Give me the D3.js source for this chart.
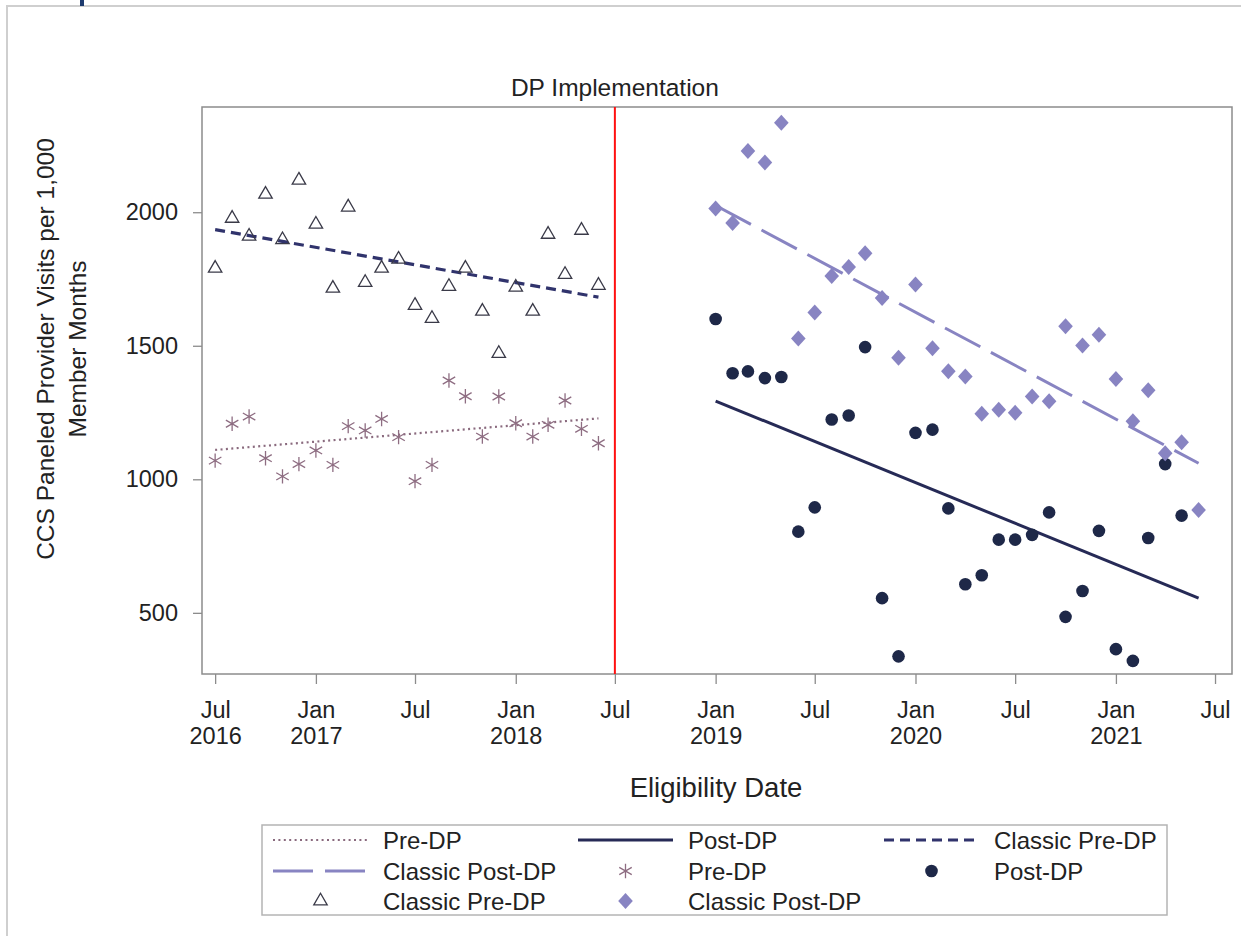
<!DOCTYPE html>
<html>
<head>
<meta charset="utf-8">
<script src="https://cdn.jsdelivr.net/npm/d3@7/dist/d3.min.js"></script>
<style>
  html, body { margin: 0; padding: 0; background: #ffffff; }
  svg { display: block; font-family: "Liberation Sans", Arial, sans-serif; }
</style>
</head>
<body>
<svg id="chart" width="1241" height="936"></svg>
<script>
// ---- Monthly series (visits per 1,000 member months) ----
// Pre-DP period: Jul 2016 .. Jun 2018
const preStart = new Date(2016, 6, 1);
const preDP      = [1070, 1208, 1235, 1079, 1011, 1057, 1108, 1054, 1199, 1183, 1226, 1158,
                    993, 1054, 1370, 1311, 1160, 1310, 1210, 1160, 1204, 1295, 1189, 1135];
const classicPre = [1790, 1977, 1910, 2067, 1897, 2120, 1955, 1715, 2019, 1737, 1790, 1824,
                    1651, 1602, 1722, 1790, 1629, 1471, 1719, 1629, 1917, 1767, 1932, 1726];
// Post-DP period: Jan 2019 .. Jun 2021
const postStart = new Date(2019, 0, 1);
const postDP      = [1600, 1397, 1404, 1379, 1383, 804, 895, 1224, 1239, 1495, 555, 337,
                     1174, 1186, 891, 607, 641, 774, 774, 792, 876, 485, 582, 807,
                     364, 320, 780, 1057, 864];
const classicPost = [2014, 1960, 2229, 2186, 2335, 1527, 1625, 1761, 1795, 1846, 1679, 1455,
                     1729, 1491, 1405, 1385, 1245, 1260, 1249, 1310, 1292, 1573, 1501, 1541,
                     1376, 1217, 1333, 1098, 1139, 885];

// Fitted trend lines: value at the first and last month of each period
const preTrend         = [1110, 1228];
const classicPreTrend  = [1935, 1682];
const postTrend        = [1293, 555];
const classicPostTrend = [2025, 1060];

const yTicks = [500, 1000, 1500, 2000];
const dpDate = new Date(2018, 6, 1);
const eventLabel = "DP Implementation";
const xTitle = "Eligibility Date";
const yTitle = ["CCS Paneled Provider Visits per 1,000", "Member Months"];

const legendItems = [
  { label: "Pre-DP",          kind: "dotted" },
  { label: "Post-DP",         kind: "solid" },
  { label: "Classic Pre-DP",  kind: "dashed" },
  { label: "Classic Post-DP", kind: "longdash" },
  { label: "Pre-DP",          kind: "star" },
  { label: "Post-DP",         kind: "circle" },
  { label: "Classic Pre-DP",  kind: "triangle" },
  { label: "Classic Post-DP", kind: "diamond" }
];

// ---- Styles ----
const C = {
  pre: "#8e6d82",
  preLine: "#8a6a7e",
  post: "#1e2848",
  postLine: "#262a56",
  classicPreLine: "#30336c",
  triangle: "#3a3a48",
  classicPost: "#8884c2"
};

const svg = d3.select("#chart");
const plot = { left: 202, top: 107, right: 1232, bottom: 674 };

const x = d3.scaleTime()
  .domain([new Date(2016, 5, 7), new Date(2021, 7, 1)])
  .range([plot.left, plot.right]);
const y = d3.scaleLinear()
  .domain([271, 2394])
  .range([plot.bottom, plot.top]);

const monthsFrom = (start, n) => d3.range(n).map(i => d3.timeMonth.offset(start, i));
const toPoints = (start, vals) => monthsFrom(start, vals.length).map((d, i) => ({ date: d, value: vals[i] }));

// outer page frame
svg.append("rect").attr("x", 7).attr("y", 6).attr("width", 1250).attr("height", 950)
  .attr("fill", "none").attr("stroke", "#cfcfcf").attr("stroke-width", 2);
svg.append("rect").attr("x", 80).attr("y", 0).attr("width", 4).attr("height", 6).attr("fill", "#1d3a6e");

// plot frame
svg.append("rect")
  .attr("x", plot.left).attr("y", plot.top)
  .attr("width", plot.right - plot.left).attr("height", plot.bottom - plot.top)
  .attr("fill", "#ffffff").attr("stroke", "#8c8c8c").attr("stroke-width", 1.5);

// ---- Axes ----
const xTickDates = d3.timeMonth.every(6).range(new Date(2016, 6, 1), new Date(2021, 7, 1));
const xAxis = svg.append("g")
  .attr("transform", `translate(0,${plot.bottom})`)
  .call(d3.axisBottom(x).tickValues(xTickDates).tickSize(10).tickFormat(d3.timeFormat("%b")));
xAxis.select(".domain").remove();
xAxis.selectAll(".tick line").attr("stroke", "#8c8c8c").attr("stroke-width", 1.3);
xAxis.selectAll(".tick text").each(function (d, i) {
  const t = d3.select(this);
  t.text(null).attr("y", null).attr("dy", null)
    .attr("fill", "#222").style("font-size", "23.5px");
  t.append("tspan").attr("x", 0).attr("y", 44).text(d3.timeFormat("%b")(d));
  if (i === 0 || d.getMonth() === 0) {
    t.append("tspan").attr("x", 0).attr("y", 70).text(d3.timeFormat("%Y")(d));
  }
});

const yAxis = svg.append("g")
  .attr("transform", `translate(${plot.left},0)`)
  .call(d3.axisLeft(y).tickValues(yTicks).tickSize(9).tickPadding(15).tickFormat(d3.format("d")));
yAxis.select(".domain").remove();
yAxis.selectAll(".tick line").attr("stroke", "#8c8c8c").attr("stroke-width", 1.3);
yAxis.selectAll(".tick text").attr("fill", "#222").style("font-size", "23.5px");

// axis titles
svg.append("text").attr("x", 716).attr("y", 797).attr("text-anchor", "middle")
  .attr("fill", "#222").style("font-size", "27.5px").text(xTitle);
yTitle.forEach((line, i) => {
  svg.append("text")
    .attr("transform", `translate(${54 + i * 32},349) rotate(-90)`)
    .attr("text-anchor", "middle").attr("fill", "#222").style("font-size", "24.5px")
    .text(line);
});

// ---- DP implementation marker ----
svg.append("line")
  .attr("x1", x(dpDate)).attr("x2", x(dpDate))
  .attr("y1", plot.top).attr("y2", plot.bottom)
  .attr("stroke", "#ff1010").attr("stroke-width", 2);
svg.append("text").attr("x", x(dpDate)).attr("y", 96).attr("text-anchor", "middle")
  .attr("fill", "#222").style("font-size", "24.5px").text(eventLabel);

// ---- Trend lines ----
const line = d3.line().x(d => x(d.date)).y(d => y(d.value));
function trend(start, nMonths, vals) {
  return [{ date: start, value: vals[0] },
          { date: d3.timeMonth.offset(start, nMonths - 1), value: vals[1] }];
}
const lineStyles = {
  dotted:   { stroke: C.preLine, width: 2.2, dash: "2,3.4" },
  solid:    { stroke: C.postLine, width: 3, dash: null },
  dashed:   { stroke: C.classicPreLine, width: 3.2, dash: "10,6" },
  longdash: { stroke: C.classicPost, width: 3, dash: "40,12" }
};
function styleLine(sel, s) {
  sel.attr("fill", "none").attr("stroke", s.stroke).attr("stroke-width", s.width)
    .attr("stroke-dasharray", s.dash);
}
svg.append("path").datum(trend(preStart, preDP.length, preTrend)).attr("d", line)
  .call(styleLine, lineStyles.dotted);
svg.append("path").datum(trend(postStart, classicPost.length, postTrend)).attr("d", line)
  .call(styleLine, lineStyles.solid);
svg.append("path").datum(trend(preStart, classicPre.length, classicPreTrend)).attr("d", line)
  .call(styleLine, lineStyles.dashed);
svg.append("path").datum(trend(postStart, classicPost.length, classicPostTrend)).attr("d", line)
  .call(styleLine, lineStyles.longdash);

// ---- Markers ----
const starPath = (r) => {
  const a = r * Math.cos(Math.PI / 6), b = r * Math.sin(Math.PI / 6);
  return `M0,${-r}V${r}M${-a},${-b}L${a},${b}M${-a},${b}L${a},${-b}`;
};
const diamondPath = (w, h) => `M0,${-h}L${w},0L0,${h}L${-w},0Z`;
const triPath = d3.symbol().type(d3.symbolTriangle).size(78)();

const markers = {
  star: (g) => g.append("path").attr("d", starPath(7.2)).attr("fill", "none")
    .attr("stroke", C.pre).attr("stroke-width", 1.3),
  circle: (g) => g.append("circle").attr("r", 6.3).attr("fill", C.post),
  triangle: (g) => g.append("path").attr("d", triPath).attr("fill", "none")
    .attr("stroke", C.triangle).attr("stroke-width", 1.3),
  diamond: (g) => g.append("path").attr("d", diamondPath(7.3, 8)).attr("fill", C.classicPost)
};

function drawMarkers(data, kind) {
  svg.append("g").selectAll("g").data(data).join("g")
    .attr("transform", d => `translate(${x(d.date)},${y(d.value)})`)
    .each(function () { markers[kind](d3.select(this)); });
}
drawMarkers(toPoints(preStart, preDP), "star");
drawMarkers(toPoints(postStart, postDP), "circle");
drawMarkers(toPoints(preStart, classicPre), "triangle");
drawMarkers(toPoints(postStart, classicPost), "diamond");

// ---- Legend ----
const lg = { x: 262, y: 825, w: 905, h: 90, colX: [273, 578, 884], sample: 95, rowY: [840, 871, 901] };
svg.append("rect").attr("x", lg.x).attr("y", lg.y).attr("width", lg.w).attr("height", lg.h)
  .attr("fill", "#ffffff").attr("stroke", "#b4b4b4").attr("stroke-width", 1.5);
legendItems.forEach((item, i) => {
  const col = i % 3, row = Math.floor(i / 3);
  const x0 = lg.colX[col], cy = lg.rowY[row];
  const g = svg.append("g");
  if (lineStyles[item.kind]) {
    g.append("line").attr("x1", x0).attr("x2", x0 + lg.sample).attr("y1", cy).attr("y2", cy)
      .call(styleLine, lineStyles[item.kind]);
  } else {
    const m = g.append("g").attr("transform", `translate(${x0 + lg.sample / 2},${cy})`);
    markers[item.kind](m);
  }
  g.append("text").attr("x", x0 + lg.sample + 15).attr("y", cy + 8.5)
    .attr("fill", "#222").style("font-size", "24px").text(item.label);
});
</script>
</body>
</html>
